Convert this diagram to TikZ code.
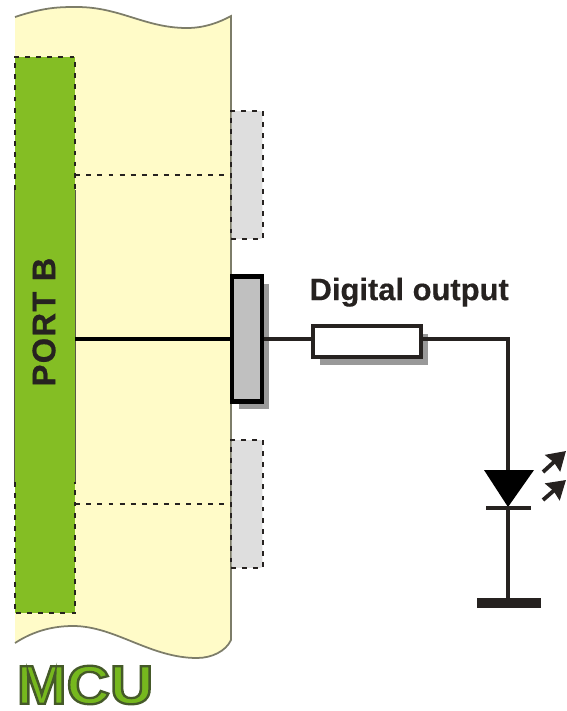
\documentclass[tikz,border=0pt]{standalone}
\usepackage{xcolor}
\usepackage{fontspec}
\setmainfont{Liberation Sans}
\usepackage{tikz}
\usetikzlibrary{arrows.meta, positioning, calc, shadows}
\definecolor{mydark}{RGB}{38,34,32}
\definecolor{mybody}{RGB}{255,251,200}
\definecolor{myedge}{RGB}{125,125,105}
\definecolor{mygreen}{RGB}{132,190,36}
\definecolor{mcugreen}{RGB}{118,184,30}
\definecolor{mypin}{RGB}{192,192,192}
\definecolor{mypinoff}{RGB}{222,222,222}
\tikzset{
  portbox/.style={rectangle, fill=mygreen, minimum width=1.2cm, minimum height=11.12cm, inner sep=0pt},
  pinoff/.style={rectangle, fill=mypinoff, minimum width=0.62cm, minimum height=2.56cm, inner sep=0pt},
  pinon/.style={rectangle, draw=black, fill=mypin, line width=2.6pt, minimum width=0.6cm, minimum height=2.5cm, inner sep=0pt,
    drop shadow={shadow xshift=0.14cm, shadow yshift=-0.15cm, fill=black, opacity=0.4}},
  resbox/.style={rectangle, draw=mydark, fill=white, line width=2.2pt, minimum width=2.16cm, minimum height=0.62cm, inner sep=0pt,
    drop shadow={shadow xshift=0.14cm, shadow yshift=-0.15cm, fill=black, opacity=0.4}},
  dashline/.style={line width=1pt, color=mydark, dash pattern=on 2.8pt off 3.5pt},
  wire/.style={line width=2.2pt, color=mydark},
  ledarrow/.style={-{Stealth[length=0.36cm, width=0.44cm, inset=0.03cm]}, line width=2.2pt, color=mydark},
  boldtext/.style={text=mydark, inner sep=0pt}
}
\begin{document}
\begin{tikzpicture}[x=0.02cm, y=-0.02cm]
  \useasboundingbox (0,0) rectangle (567,711);

  % Chip body
  \fill[mybody] (15,17) .. controls (45,7) and (60,7) .. (77,7) .. controls (120,7) and (145,28) .. (187,28) .. controls (205,28) and (220,22) .. (231,16)
    -- (231,640) .. controls (226,651) and (212,658) .. (197,658) .. controls (150,658) and (115,626) .. (73,626) .. controls (55,626) and (35,630) .. (15,643) -- cycle;
  \draw[myedge, line width=1pt] (15,17) .. controls (45,7) and (60,7) .. (77,7) .. controls (120,7) and (145,28) .. (187,28) .. controls (205,28) and (220,22) .. (231,16)
    -- (231,640) .. controls (226,651) and (212,658) .. (197,658) .. controls (150,658) and (115,626) .. (73,626) .. controls (55,626) and (35,630) .. (15,643);

  % Nodes
  \node[portbox] (port) at (45,335) {};
  \node[rotate=90, boldtext, font=\bfseries\fontsize{18.6}{20}\selectfont\addfontfeature{LetterSpace=4,FakeBold=0.6}] (portlabel) at (44,322) {PORT B};
  \node[pinon] (dopin) at (247,339) {};
  \node[pinoff, rounded corners=1.5pt] (pinup) at (247,175) {};
  \node[pinoff, rounded corners=1.5pt] (pindown) at (247,504) {};
  \node[resbox, right=0.94cm of dopin, yshift=-0.05cm] (res) {};
  \node[boldtext, font=\bfseries\fontsize{17.6}{20}\selectfont\addfontfeature{FakeBold=0.4}, above=0.34cm of res, xshift=0.84cm] (dolabel) {Digital output};
  \node[font=\bfseries\fontsize{31}{33}\selectfont, xscale=1.1, inner sep=0pt] (mcu) at (85,685)
    {\textcolor{mcugreen}{\special{pdf:code 0.27 0.35 0.16 RG 1.3 w 2 Tr}MCU\special{pdf:code 0 Tr}}};

  % LED points
  \coordinate (ledtop) at (508,470);
  \coordinate (ledleft) at (484,470);
  \coordinate (ledright) at (534,470);
  \coordinate (ledtip) at (508,507);
  \coordinate (barleft) at (486,508);
  \coordinate (barright) at (531,508);
  \coordinate (gnd) at (508,603);
  \coordinate (gndleft) at (477,603);
  \coordinate (gndright) at (541,603);
  \coordinate (rayonea) at (543,472);
  \coordinate (rayoneb) at (566,451);
  \coordinate (raytwoa) at (543,500);
  \coordinate (raytwob) at (566,480);

  % Port outline
  \draw[myedge!70!black, line width=0.9pt] (port.west |- 0,190) -- (port.west |- 0,482);
  \draw[myedge!70!black, line width=0.9pt] (port.east |- 0,190) -- (port.east |- 0,482);
  \draw[dashline] (port.west |- 0,190) -- (port.north west) -- (port.north east) -- (port.east |- 0,190);
  \draw[dashline] (port.west |- 0,482) -- (port.south west) -- (port.south east) -- (port.east |- 0,482);

  % Disabled pins
  \draw[dashline] (pinup.south west) -- (pinup.south east) -- (pinup.north east) -- (pinup.north west) -- cycle;
  \draw[dashline] (pindown.south west) -- (pindown.south east) -- (pindown.north east) -- (pindown.north west) -- cycle;
  \draw[dashline] (port.east |- pinup.west) -- (pinup.west);
  \draw[dashline] (port.east |- pindown.west) -- (pindown.west);

  % Wires
  \draw[wire, color=black] (port.east |- dopin.west) -- (dopin.west);
  \draw[wire] (dopin.east) -- (dopin.east -| res.west);
  \draw[wire] (res.east |- dopin.east) -| (ledtop);
  \draw[wire] (ledtip) -- (gnd);

  % LED and ground
  \fill[black] (ledleft) -- (ledright) -- (ledtip) -- cycle;
  \draw[wire] (barleft) -- (barright);
  \draw[mydark, line width=5.4pt] (gndleft) -- (gndright);
  \draw[ledarrow] (rayonea) -- (rayoneb);
  \draw[ledarrow] (raytwoa) -- (raytwob);
\end{tikzpicture}
\end{document}
